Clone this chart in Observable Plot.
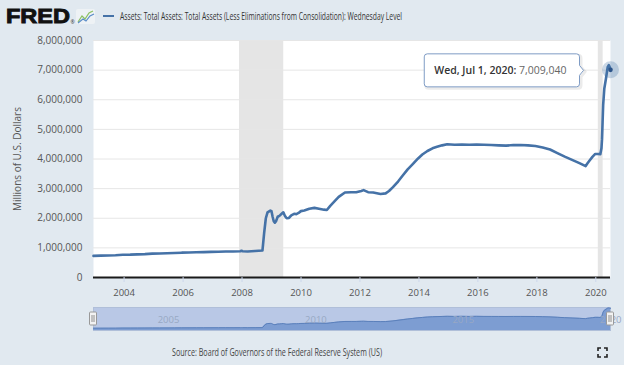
<!DOCTYPE html>
<html><head><meta charset="utf-8">
<script src="https://cdn.jsdelivr.net/npm/d3@7"></script>
<script src="https://cdn.jsdelivr.net/npm/@observablehq/plot@0.6"></script>
<style>
html,body{margin:0;padding:0;background:#e1e9f0;width:624px;height:365px;overflow:hidden;font-family:"Open Sans",sans-serif;}
svg{display:block;}
</style></head><body><div id="root"></div>
<script>
// ---- data (millions of U.S. dollars, weekly level) ----
const dates = ["2002-12-18","2003-03-19","2003-06-18","2003-09-17","2003-12-17","2004-03-17","2004-06-16","2004-09-15","2004-12-15",
"2005-03-16","2005-06-15","2005-09-14","2005-12-14","2006-03-15","2006-06-14","2006-09-13","2006-12-13","2007-03-14","2007-06-13",
"2007-09-12","2007-12-12","2007-12-26","2008-01-09","2008-03-12","2008-06-11","2008-09-10","2008-09-17","2008-10-01","2008-10-22",
"2008-11-12","2008-12-17","2008-12-31","2009-01-14","2009-01-28","2009-02-11","2009-02-25","2009-03-18","2009-04-08","2009-05-06",
"2009-05-27","2009-06-17","2009-07-08","2009-08-05","2009-09-02","2009-10-07","2009-11-04","2009-12-02","2009-12-30","2010-02-10",
"2010-04-14","2010-06-16","2010-08-11","2010-10-13","2010-11-17","2010-12-29","2011-02-16","2011-04-13","2011-06-29","2011-09-14",
"2011-11-16","2012-01-18","2012-02-15","2012-04-11","2012-06-13","2012-09-12","2012-11-14","2012-12-26","2013-02-13","2013-04-17",
"2013-06-19","2013-08-14","2013-10-16","2013-12-18","2014-02-12","2014-04-16","2014-06-18","2014-08-13","2014-10-15","2014-12-17",
"2015-03-18","2015-06-17","2015-09-16","2015-12-16","2016-03-16","2016-06-15","2016-09-14","2016-12-14","2017-03-15","2017-06-14",
"2017-09-13","2017-12-13","2018-03-14","2018-06-13","2018-09-12","2018-12-12","2019-03-13","2019-06-12","2019-08-28","2019-09-18",
"2019-10-16","2019-11-20","2019-12-25","2020-01-29","2020-02-26","2020-03-11","2020-03-18","2020-03-25","2020-04-01","2020-04-15",
"2020-05-06","2020-05-27","2020-06-10","2020-06-24","2020-07-01"];
const values = [730000,740000,745000,752000,770000,772000,782000,790000,805000,
808000,818000,826000,838000,842000,850000,856000,866000,868000,878000,
876000,885000,902000,888000,880000,895000,910000,1100000,1500000,2000000,
2200000,2260000,2240000,2050000,1900000,1850000,1900000,2050000,2080000,2150000,
2200000,2070000,2000000,2010000,2100000,2150000,2140000,2180000,2240000,2260000,
2320000,2350000,2320000,2290000,2280000,2420000,2560000,2720000,2870000,2880000,
2880000,2920000,2950000,2880000,2870000,2820000,2840000,2920000,3050000,3240000,
3460000,3650000,3830000,4010000,4150000,4270000,4360000,4410000,4460000,4500000,
4480000,4490000,4480000,4490000,4480000,4470000,4460000,4450000,4470000,4470000,
4460000,4440000,4390000,4320000,4200000,4080000,3970000,3860000,3760000,3850000,
3950000,4070000,4170000,4170000,4160000,4360000,4670000,5250000,5820000,6370000,
6720000,7100000,7170000,7090000,7009040];
const yTicks = [0,1000000,2000000,3000000,4000000,5000000,6000000,7000000,8000000];
const xTickYears = [2004,2006,2008,2010,2012,2014,2016,2018,2020];
const navTickYears = [2005,2010,2015,2020];
const recessionStarts = ["2007-12-01","2020-02-01"];
const recessionEnds = ["2009-06-01","2020-04-01"];
const seriesTitle = "Assets: Total Assets: Total Assets (Less Eliminations from Consolidation): Wednesday Level";
const yLabel = "Millions of U.S. Dollars";
const sourceText = "Source: Board of Governors of the Federal Reserve System (US)";

// ---- build tables ----
const data = dates.map((d, i) => ({date: new Date(d), value: values[i]}));
const recessions = recessionStarts.map((s, i) => ({start: new Date(s), end: new Date(recessionEnds[i])}));
const last = data[data.length - 1];
const xDomain = [data[0].date, last.date];
const blue = "#4572a7";
const font = '"Open Sans", sans-serif';
const root = document.getElementById("root");

// ---- header ----
const header = d3.create("svg").attr("width", 624).attr("height", 30);
header.append("text").attr("x", 6).attr("y", 23)
  .attr("font-family", '"Liberation Sans", Arial, sans-serif').attr("font-weight", 700).attr("font-size", 20)
  .attr("textLength", 64).attr("lengthAdjust", "spacingAndGlyphs")
  .attr("fill", "#111").attr("stroke", "#111").attr("stroke-width", 0.9).text("FRED");
header.append("text").attr("x", 70.5).attr("y", 24).attr("font-size", 5).attr("fill", "#333").text("®");
header.append("rect").attr("x", 76).attr("y", 9).attr("width", 19).attr("height", 15).attr("rx", 2).attr("fill", "#eef2f5");
header.append("path").attr("d", "M78,22L82,16L85,19L89,13L93,11").attr("fill", "none").attr("stroke", "#8cc063").attr("stroke-width", 1.2);
header.append("path").attr("d", "M78,23L83,19L86,21L90,16L94,14").attr("fill", "none").attr("stroke", "#5a8cc8").attr("stroke-width", 1.2);
header.append("line").attr("x1", 103).attr("x2", 114).attr("y1", 16).attr("y2", 16).attr("stroke", blue).attr("stroke-width", 2);
header.append("text").attr("x", 120).attr("y", 19.5).attr("font-family", font).attr("font-size", 10)
  .attr("fill", "#333").attr("textLength", 282).attr("lengthAdjust", "spacingAndGlyphs").text(seriesTitle);
root.appendChild(header.node());

// ---- main chart ----
const chart = Plot.plot({
  width: 624, height: 270,
  marginLeft: 93, marginRight: 14, marginTop: 10, marginBottom: 23,
  style: {background: "transparent", fontFamily: font, overflow: "visible"},
  x: {type: "utc", domain: xDomain},
  y: {domain: [0, 8000000]},
  marks: [
    Plot.frame({fill: "white", stroke: null}),
    Plot.rect(recessions, {x1: "start", x2: "end", fill: "#e5e5e5"}),
    Plot.ruleY(yTicks.filter(d => d > 0), {stroke: "#e6e6e6"}),
    Plot.line(data, {x: "date", y: "value", stroke: blue, strokeWidth: 2.6, strokeLinejoin: "round"}),
    Plot.ruleY([0], {stroke: "#1a1a1a", strokeWidth: 2}),
    Plot.axisY({ticks: yTicks, tickSize: 0, tickPadding: 11, tickFormat: d3.format(","), fill: "#555", fontSize: 10,
      label: yLabel, labelAnchor: "center", labelArrow: "none", labelOffset: 80}),
    Plot.axisX({ticks: xTickYears.map(y => new Date(Date.UTC(y, 0, 1))), tickFormat: d3.utcFormat("%Y"),
      tickSize: 5, tickPadding: 7, stroke: "#ccd6eb", fill: "#555", fontSize: 9.5, label: null}),
    Plot.dot([last], {x: "date", y: "value", r: 8.5, fill: blue, fillOpacity: 0.28, stroke: null}),
    Plot.dot([last], {x: "date", y: "value", r: 2.3, fill: "#2c5489", stroke: null}),
    Plot.text([last], {x: "date", y: "value", text: d => "tip", textAnchor: "end", dx: -44, dy: 1,
      fontSize: 10.5, className: "tip-label"})
  ]
});
root.appendChild(chart);

// tooltip styling: two-tone text and callout box
{
  const svg = d3.select(chart);
  const t = svg.select("g.tip-label text");
  t.text(null);
  t.append("tspan").attr("fill", "#333").attr("font-weight", 600).text(d3.utcFormat("%a, %b %-d, %Y")(last.date) + ":");
  t.append("tspan").attr("fill", "#666").text(" " + d3.format(",")(last.value));
  const sr = chart.getBoundingClientRect();
  const br = t.node().getBoundingClientRect();
  const L = br.left - sr.left - 10, R = br.right - sr.left + 13;
  const cy = chart.scale("y").apply(last.value) + 1;
  const T = cy - 16.5, B = cy + 16.5, r = 3;
  const d = `M${L + r},${T}H${R - r}Q${R},${T} ${R},${T + r}V${cy - 5}L${R + 4},${cy}L${R},${cy + 5}V${B - r}Q${R},${B} ${R - r},${B}H${L + r}Q${L},${B} ${L},${B - r}V${T + r}Q${L},${T} ${L + r},${T}Z`;
  svg.insert("path", "g.tip-label").attr("d", d).attr("transform", "translate(1.5,1.5)")
    .attr("fill", "none").attr("stroke", "rgba(0,0,0,0.08)").attr("stroke-width", 3);
  svg.insert("path", "g.tip-label").attr("d", d).attr("fill", "white").attr("stroke", "#7f9cc5").attr("stroke-width", 1);
}

// ---- navigator ----
const handles = Plot.dot(xDomain, {
  x: d => d, frameAnchor: "middle",
  render(index, scales, vals, dims) {
    const g = d3.create("svg:g");
    const cy = dims.marginTop + (dims.height - dims.marginTop - dims.marginBottom) / 2;
    for (const i of index) {
      const cx = vals.x[i];
      g.append("rect").attr("x", cx - 3.5).attr("y", cy - 6.5).attr("width", 7).attr("height", 13).attr("rx", 1)
        .attr("fill", "#f2f2f2").attr("stroke", "#999");
      g.append("path").attr("d", `M${cx - 1},${cy - 3.5}V${cy + 3.5}M${cx + 1},${cy - 3.5}V${cy + 3.5}`)
        .attr("stroke", "#777").attr("stroke-width", 0.8);
    }
    return g.node();
  }
});
const nav = Plot.plot({
  width: 624, height: 40,
  marginLeft: 93, marginRight: 14, marginTop: 7, marginBottom: 10,
  style: {background: "transparent", fontFamily: font, overflow: "visible"},
  x: {type: "utc", domain: xDomain, axis: null},
  y: {domain: [0, 7300000], axis: null},
  marks: [
    Plot.frame({fill: "#b9c8e6", stroke: "#b0bfd9"}),
    Plot.areaY(data, {x: "date", y: "value", fill: "#7d9dd2"}),
    Plot.lineY(data, {x: "date", y: "value", stroke: "#5b80bb", strokeWidth: 1}),
    Plot.text(navTickYears, {x: y => new Date(Date.UTC(y, 0, 1)), frameAnchor: "bottom", dy: -8, dx: 4,
      text: d => String(d), textAnchor: "start", fill: "#98a8c4", fontSize: 9.5}),
    handles
  ]
});
root.appendChild(nav);

// ---- caption ----
const cap = d3.create("svg").attr("width", 624).attr("height", 25);
cap.append("text").attr("x", 277).attr("y", 16).attr("text-anchor", "middle").attr("font-family", font)
  .attr("font-size", 10).attr("fill", "#444").attr("textLength", 210).attr("lengthAdjust", "spacingAndGlyphs").text(sourceText);
cap.append("path").attr("d", "M598,11V8H601M604,8H607V11M607,14V17H604M601,17H598V14")
  .attr("fill", "none").attr("stroke", "#222").attr("stroke-width", 1.6);
root.appendChild(cap.node());
</script></body></html>
